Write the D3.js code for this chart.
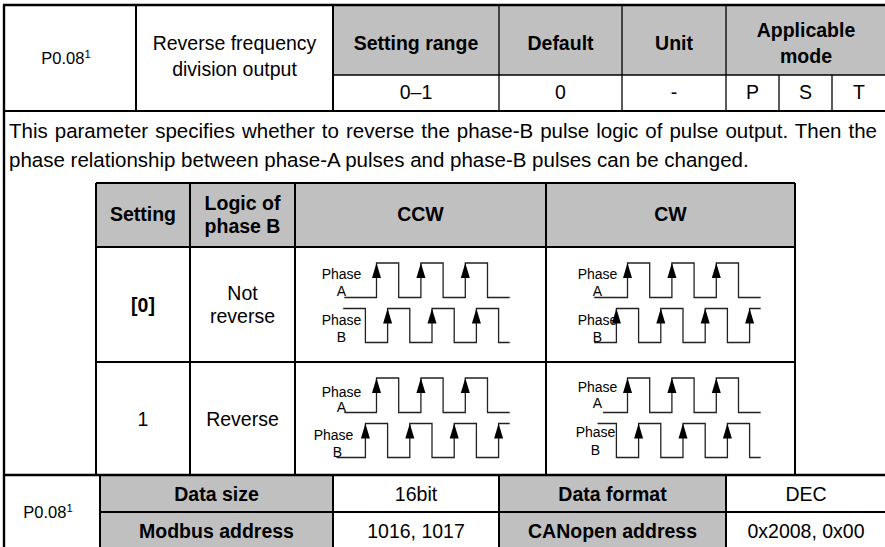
<!DOCTYPE html>
<html><head><meta charset="utf-8">
<script src="https://cdn.jsdelivr.net/npm/d3@7"></script>
<style>
html,body{margin:0;padding:0;background:#fff;}
svg{display:block;font-family:"Liberation Sans",Arial,Helvetica,sans-serif;}
</style>
</head><body>
<svg id="c" width="885" height="547"></svg>
<script>
// ---------------- data ----------------
const paramCode = "P0.08";
const paramSup = "1";
const paramName = ["Reverse frequency", "division output"];
const topHeaders = ["Setting range", "Default", "Unit"];
const modeHeader = ["Applicable", "mode"];
const topValues = ["0\u20131", "0", "-"];
const modes = ["P", "S", "T"];
const description = [
  "This parameter specifies whether to reverse the phase-B pulse logic of pulse output. Then the",
  "phase relationship between phase-A pulses and phase-B pulses can be changed."
];
const innerHeaders = ["Setting", "CCW", "CW"];
const logicHeader = ["Logic of", "phase B"];
const settingValues = ["[0]", "1"];
const logicValues = [["Not", "reverse"], ["Reverse"]];
const infoLabelsL = ["Data size", "Modbus address"];
const infoValuesL = ["16bit", "1016, 1017"];
const infoLabelsR = ["Data format", "CANopen address"];
const infoValuesR = ["DEC", "0x2008, 0x00"];
// waveform: times in quarter-period units (t=0 = first rising edge of phase A);
// first value = start, last value = end, values between = level toggles
const waveR0CcwA = [-2.9, 0, 2, 4, 6, 8, 10, 12];
const waveR0CcwB = [-3, -1, 1, 3, 5, 7, 9, 11, 12];
const waveR0CwA  = [-3, 0, 2, 4, 6, 8, 10, 12];
const waveR0CwB  = [-3, -1, 1, 3, 5, 7, 9, 11, 12];
const waveR1CcwA = [-2.9, 0, 2, 4, 6, 8, 10, 12];
const waveR1CcwB = [-3.6, -1, 1, 3, 5, 7, 9, 11, 12];
const waveR1CwA  = [-2.2, 0, 2, 4, 6, 8, 10, 12];
const waveR1CwB  = [-2.7, -1, 1, 3, 5, 7, 9, 11, 12];
// starting level of each wave (0 = low, 1 = high)
const waveStartLevel = [0, 1, 0, 0, 0, 0, 0, 1];

// ---------------- layout ----------------
const FONT = 19.5;
const DESC_FONT = 20.5;
const svg = d3.select("#c");
const GRAY = "#c0c0c0";
const topCols = [4, 136, 333, 499, 622, 726, 886];
const modeCols = [726, 779, 832, 886];
const topRows = [5, 75, 111];
const innerCols = [96, 190, 295, 546, 795];
const innerRows = [183, 247, 362, 475];
const botCols = [4, 100, 333, 499, 726, 886];
const botRows = [475, 512, 550];

const gFill = svg.append("g");
const gText = svg.append("g");
const gWave = svg.append("g");
const gLine = svg.append("g");

function rect(x0, y0, x1, y1, fill) {
  gFill.append("rect").attr("x", x0).attr("y", y0).attr("width", x1 - x0).attr("height", y1 - y0).attr("fill", fill);
}
function line(x1, y1, x2, y2, w) {
  gLine.append("line").attr("x1", x1).attr("y1", y1).attr("x2", x2).attr("y2", y2)
    .attr("stroke", "#000").attr("stroke-width", w || 1.4);
}
function txt(x, cy, s, opt) {
  opt = opt || {};
  const size = opt.size || FONT;
  const t = gText.append("text").attr("x", x).attr("y", cy + size * 0.36)
    .attr("text-anchor", opt.anchor || "middle")
    .attr("font-size", size).attr("fill", "#000")
    .attr("font-weight", opt.bold ? "bold" : "normal").text(s);
  return t;
}
function lines(x, cy, arr, gap, opt) {
  arr.forEach((s, i) => txt(x, cy + (i - (arr.length - 1) / 2) * gap, s, opt));
}

// fills
rect(topCols[2], topRows[0], topCols[6], topRows[1], GRAY);
rect(innerCols[0], innerRows[0], innerCols[4], innerRows[1], GRAY);
rect(botCols[1], botRows[0], botCols[2], botRows[2], GRAY);
rect(botCols[3], botRows[0], botCols[4], botRows[2], GRAY);

// ---- top table text
function code(cx, cy, size) {
  const t = txt(cx - 4, cy, paramCode, {size: size});
  t.append("tspan").attr("font-size", size * 0.68).attr("dy", -size * 0.36).text(paramSup);
}
code((topCols[0] + topCols[1]) / 2, (topRows[0] + topRows[2]) / 2, 16.5);
lines((topCols[1] + topCols[2]) / 2, (topRows[0] + topRows[2]) / 2 - 2, paramName, 26);
topHeaders.forEach((h, i) => txt((topCols[i + 2] + topCols[i + 3]) / 2, (topRows[0] + topRows[1]) / 2 + 3, h, {bold: true}));
lines((topCols[5] + topCols[6]) / 2, (topRows[0] + topRows[1]) / 2 + 3, modeHeader, 26, {bold: true});
topValues.forEach((v, i) => txt((topCols[i + 2] + topCols[i + 3]) / 2, (topRows[1] + topRows[2]) / 2 - 1, v));
modes.forEach((v, i) => txt((modeCols[i] + modeCols[i + 1]) / 2, (topRows[1] + topRows[2]) / 2 - 1, v));

// ---- description (first line justified)
const descX = 9, descR = 877;
description.forEach((s, i) => {
  const t = txt(descX, 131 + i * 29, s, {anchor: "start", size: DESC_FONT});
  if (i === 0) {
    const w = t.node().getComputedTextLength();
    const n = s.split(" ").length - 1;
    t.style("word-spacing", ((descR - descX - w) / n) + "px");
  }
});

// ---- inner table text
const ihCy = (innerRows[0] + innerRows[1]) / 2 - 1;
txt((innerCols[0] + innerCols[1]) / 2, ihCy, innerHeaders[0], {bold: true});
lines((innerCols[1] + innerCols[2]) / 2, ihCy, logicHeader, 23, {bold: true});
txt((innerCols[2] + innerCols[3]) / 2, ihCy, innerHeaders[1], {bold: true});
txt((innerCols[3] + innerCols[4]) / 2, ihCy, innerHeaders[2], {bold: true});
settingValues.forEach((v, i) => {
  const cy = (innerRows[i + 1] + innerRows[i + 2]) / 2;
  txt((innerCols[0] + innerCols[1]) / 2, cy, v, {bold: i === 0});
  lines((innerCols[1] + innerCols[2]) / 2, cy, logicValues[i], 23);
});

// ---- waveforms
const waves = [waveR0CcwA, waveR0CcwB, waveR0CwA, waveR0CwB, waveR1CcwA, waveR1CcwB, waveR1CwA, waveR1CwB];
const levelOffsets = [[16, 50.5], [61.5, 95.5]]; // [high, low] for phase A and B from row top
const labelPos = [ // [dx, dy] for "Phase" and letter, relative to base x and row top
  [[-35, 27], [-35, 44], [-35, 73], [-35, 90]],
  [[-30, 27], [-30, 44], [-30, 73], [-30, 90]],
  [[-35, 30], [-35, 45], [-43, 73], [-39, 90]],
  [[-30, 25], [-30, 41], [-32, 70], [-32, 88]]
];
const UNIT = 11.1;
waves.forEach((w, k) => {
  const row = Math.floor(k / 4), col = Math.floor((k % 4) / 2), ph = k % 2;
  const baseX = innerCols[2 + col] + 81.5;
  const top = innerRows[1 + row];
  const x = d3.scaleLinear().domain([0, 1]).range([baseX, baseX + UNIT]);
  const y = d3.scaleLinear().domain([0, 1]).range([top + levelOffsets[ph][1], top + levelOffsets[ph][0]]);
  let lvl = waveStartLevel[k];
  const pts = [[w[0], lvl]];
  const rises = [];
  for (let i = 1; i < w.length - 1; i++) {
    lvl = 1 - lvl;
    pts.push([w[i], lvl]);
    if (lvl === 1) rises.push(w[i]);
  }
  pts.push([w[w.length - 1], lvl]);
  gWave.append("path").attr("d", d3.line().x(d => x(d[0])).y(d => y(d[1])).curve(d3.curveStepAfter)(pts))
    .attr("fill", "none").attr("stroke", "#222").attr("stroke-width", 1.3);
  rises.forEach(r => {
    const ax = x(r), ay = y(1);
    gWave.append("path").attr("d", `M${ax},${ay}L${ax - 4.5},${ay + 15}L${ax + 4.5},${ay + 15}Z`).attr("fill", "#000");
  });
  const lp = labelPos[row * 2 + col];
  txt(baseX + lp[ph * 2][0], top + lp[ph * 2][1], "Phase", {size: 14});
  txt(baseX + lp[ph * 2 + 1][0], top + lp[ph * 2 + 1][1], ph === 0 ? "A" : "B", {size: 14});
});

// ---- bottom table text
code((botCols[0] + botCols[1]) / 2, botRows[1], 16.5);
infoLabelsL.forEach((v, i) => {
  const cy = (botRows[i] + botRows[i + 1]) / 2;
  txt((botCols[1] + botCols[2]) / 2, cy, v, {bold: true});
  txt((botCols[2] + botCols[3]) / 2, cy, infoValuesL[i]);
  txt((botCols[3] + botCols[4]) / 2, cy, infoLabelsR[i], {bold: true});
  txt((botCols[4] + botCols[5]) / 2, cy, infoValuesR[i]);
});

// ---- lines
const TH = 2.4, MD = 2, TN = 1.3;
line(3, topRows[0], 886, topRows[0], TH);
line(topCols[2], topRows[1], 886, topRows[1], TN);
line(3, topRows[2], 886, topRows[2], MD);
line(topCols[0], topRows[0], topCols[0], botRows[2], TH);
[1, 2, 3, 4, 5].forEach(i => line(topCols[i], topRows[0], topCols[i], topRows[2], i === 1 || i === 2 ? MD : TN));
[1, 2].forEach(i => line(modeCols[i], topRows[1], modeCols[i], topRows[2], TN));
[0, 1, 2].forEach(i => line(innerCols[0], innerRows[i], innerCols[4], innerRows[i], MD));
innerCols.forEach(c => line(c, innerRows[0], c, innerRows[3], MD));
line(3, botRows[0], 886, botRows[0], 2.6);
line(botCols[1], botRows[1], 886, botRows[1], MD);
line(3, botRows[2], 886, botRows[2], TH);
[1, 2, 3, 4].forEach(i => line(botCols[i], botRows[0], botCols[i], botRows[2], MD));
</script>
</body></html>
